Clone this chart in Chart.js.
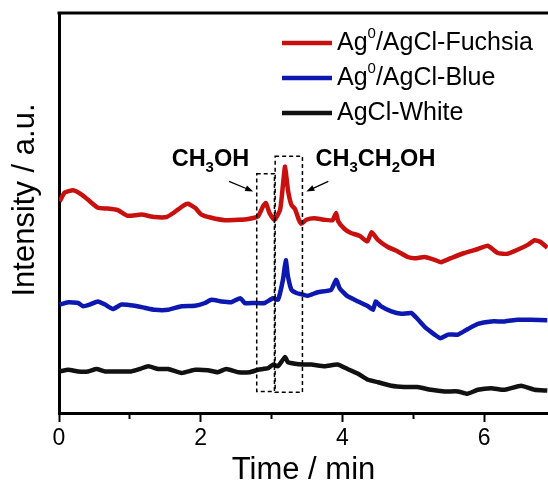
<!DOCTYPE html>
<html>
<head>
<meta charset="utf-8">
<script src="https://cdn.jsdelivr.net/npm/chart.js@4.4.1/dist/chart.umd.min.js"></script>
<style>
  html, body { margin: 0; padding: 0; background: #fff; }
  #wrap { width: 548px; height: 487px; position: relative; }
</style>
</head>
<body>
<div id="wrap"><canvas id="chart"></canvas></div>
<script>
// legend names (drawn with a real superscript 0)
const seriesNames = [
    ['Ag', '0', '/AgCl-Fuchsia'],
    ['Ag', '0', '/AgCl-Blue'],
    ['AgCl-White', '', '']
];
const seriesColors = ['#c8100f', '#0c18b0', '#111111'];

// Ag0/AgCl-Fuchsia
const timeFuchsia = [0.01, 0.08, 0.20, 0.32, 0.41, 0.55, 0.69, 0.83, 0.97, 1.16, 1.35, 1.52, 1.63, 1.75, 1.82, 1.92,
    2.01, 2.15, 2.34, 2.53, 2.67, 2.81, 2.88, 2.92, 2.97, 3.04, 3.12, 3.16, 3.19, 3.23, 3.28, 3.33, 3.38, 3.42,
    3.49, 3.60, 3.75, 3.86, 3.91, 3.94, 4.03, 4.12, 4.24, 4.35, 4.41, 4.50, 4.64, 4.78, 4.92, 5.02, 5.16, 5.30,
    5.39, 5.53, 5.72, 5.91, 6.05, 6.19, 6.33, 6.47, 6.62, 6.71, 6.80, 6.89];
const intensityFuchsia = [52.9, 55.1, 55.7, 54.6, 53.3, 51.3, 51.1, 50.7, 49.3, 49.6, 49.0, 49.0, 50.2, 51.8, 52.3, 51.3,
    49.6, 48.8, 48.2, 48.3, 48.5, 49.2, 51.7, 52.5, 50.0, 48.3, 50.8, 57.0, 61.6, 55.8, 52.0, 51.0, 48.5, 47.3,
    48.3, 48.7, 48.3, 48.2, 50.0, 47.9, 46.0, 45.0, 44.3, 42.9, 45.2, 43.3, 41.5, 40.4, 39.0, 38.7, 39.0, 38.3,
    37.7, 38.7, 40.0, 41.0, 41.8, 40.0, 39.8, 40.8, 42.1, 43.2, 42.7, 41.3];

// Ag0/AgCl-Blue
const timeBlue = [0.01, 0.13, 0.27, 0.34, 0.43, 0.55, 0.65, 0.76, 0.88, 1.07, 1.21, 1.35, 1.54, 1.73, 1.92, 2.06,
    2.15, 2.29, 2.43, 2.56, 2.62, 2.76, 2.90, 3.02, 3.09, 3.16, 3.20, 3.23, 3.28, 3.35, 3.44, 3.51, 3.65, 3.84,
    3.91, 3.96, 4.07, 4.22, 4.36, 4.43, 4.47, 4.54, 4.69, 4.83, 4.97, 5.06, 5.18, 5.30, 5.38, 5.49, 5.63, 5.77,
    5.91, 6.10, 6.29, 6.47, 6.66, 6.89];
const intensityBlue = [27.1, 27.7, 27.5, 26.7, 27.1, 27.9, 27.1, 26.0, 27.1, 26.8, 26.3, 25.8, 25.8, 26.7, 26.8, 27.5,
    28.3, 27.9, 27.7, 28.7, 27.5, 27.5, 27.5, 28.7, 28.3, 33.3, 38.2, 34.2, 30.8, 30.0, 29.6, 29.3, 30.2, 30.8,
    33.3, 31.2, 29.2, 27.9, 26.7, 25.8, 27.9, 26.7, 25.4, 24.8, 25.0, 23.5, 21.2, 19.6, 18.7, 19.6, 19.6, 21.0,
    22.3, 22.9, 22.9, 23.3, 23.3, 23.2];

// AgCl-White
const timeWhite = [0.01, 0.13, 0.27, 0.41, 0.53, 0.65, 0.83, 1.02, 1.14, 1.26, 1.40, 1.54, 1.73, 1.92, 2.10, 2.24,
    2.36, 2.53, 2.69, 2.81, 2.95, 3.02, 3.09, 3.19, 3.23, 3.33, 3.44, 3.56, 3.75, 3.93, 4.07, 4.22, 4.36, 4.50,
    4.69, 4.87, 5.06, 5.25, 5.44, 5.63, 5.76, 5.91, 6.10, 6.29, 6.52, 6.71, 6.89];
const intensityWhite = [10.4, 10.8, 10.4, 10.4, 11.0, 10.4, 10.4, 10.4, 11.0, 11.7, 11.0, 11.0, 10.0, 10.8, 10.7, 10.2,
    11.0, 10.2, 10.2, 10.8, 11.2, 12.1, 11.7, 14.0, 12.7, 12.3, 12.1, 12.1, 11.7, 12.1, 11.0, 9.8, 8.3, 7.7,
    6.8, 6.5, 6.5, 5.8, 5.4, 5.4, 4.8, 5.8, 6.2, 5.8, 6.8, 5.8, 5.6];

const xTickLabels = ['0', '', '2', '', '4', '', '6'];

function toPoints(xs, ys) {
    return xs.map((x, i) => ({ x: x, y: ys[i] }));
}

const FONT = "'Liberation Sans', Arial, sans-serif";

// text with a sub/superscript piece, drawn left to right
function drawRuns(ctx, runs, x, y) {
    runs.forEach(r => {
        if (!r.t) return;
        ctx.font = r.font;
        ctx.fillText(r.t, x, y + (r.dy || 0));
        x += ctx.measureText(r.t).width;
    });
}

const decorPlugin = {
    id: 'decor',
    afterDraw(chart) {
        const ctx = chart.ctx;
        const xs = chart.scales.x, ys = chart.scales.y;
        const area = chart.chartArea;
        ctx.save();

        // top frame line
        ctx.strokeStyle = '#000';
        ctx.lineWidth = 3;
        ctx.beginPath();
        ctx.moveTo(area.left - 1.5, area.top);
        ctx.lineTo(chart.width, area.top);
        ctx.stroke();

        // dashed boxes round the two peaks
        ctx.lineWidth = 1.5;
        ctx.setLineDash([4, 3]);
        [[2.79, 3.04, 5.4, 59.8], [3.05, 3.435, 5.2, 64.2]].forEach(b => {
            const l = xs.getPixelForValue(b[0]), r = xs.getPixelForValue(b[1]);
            const t = ys.getPixelForValue(b[3]), btm = ys.getPixelForValue(b[2]);
            ctx.strokeRect(l, t, r - l, btm - t);
        });
        ctx.setLineDash([]);

        // arrows
        function arrow(x1, y1, x2, y2) {
            const a = xs.getPixelForValue(x1), b = ys.getPixelForValue(y1);
            const c = xs.getPixelForValue(x2), d = ys.getPixelForValue(y2);
            const ang = Math.atan2(d - b, c - a);
            ctx.lineWidth = 1.3;
            ctx.beginPath();
            ctx.moveTo(a, b);
            ctx.lineTo(c - 5 * Math.cos(ang), d - 5 * Math.sin(ang));
            ctx.stroke();
            ctx.beginPath();
            ctx.moveTo(c, d);
            ctx.lineTo(c - 8 * Math.cos(ang) + 3 * Math.sin(ang), d - 8 * Math.sin(ang) - 3 * Math.cos(ang));
            ctx.lineTo(c - 8 * Math.cos(ang) - 3 * Math.sin(ang), d - 8 * Math.sin(ang) + 3 * Math.cos(ang));
            ctx.closePath();
            ctx.fill();
        }
        ctx.fillStyle = '#000';
        arrow(2.40, 57.9, 2.74, 55.4);
        arrow(3.80, 57.9, 3.49, 55.4);

        // peak labels
        const big = 'bold 23.5px ' + FONT, small = 'bold 15px ' + FONT;
        ctx.textAlign = 'left';
        ctx.textBaseline = 'alphabetic';
        drawRuns(ctx, [{ t: 'CH', font: big }, { t: '3', font: small, dy: 6 }, { t: 'OH', font: big }],
            xs.getPixelForValue(1.59), ys.getPixelForValue(61.65));
        drawRuns(ctx, [{ t: 'CH', font: big }, { t: '3', font: small, dy: 6 }, { t: 'CH', font: big },
            { t: '2', font: small, dy: 6 }, { t: 'OH', font: big }],
            xs.getPixelForValue(3.62), ys.getPixelForValue(61.65));

        // legend
        const rowY = [43, 78, 113];
        const lgFont = '25px ' + FONT, supFont = '15px ' + FONT;
        seriesNames.forEach((n, i) => {
            ctx.strokeStyle = seriesColors[i];
            ctx.lineWidth = 4.5;
            ctx.beginPath();
            ctx.moveTo(282, rowY[i]);
            ctx.lineTo(332, rowY[i]);
            ctx.stroke();
            ctx.fillStyle = '#000';
            ctx.textBaseline = 'middle';
            drawRuns(ctx, [{ t: n[0], font: lgFont }, { t: n[1], font: supFont, dy: -9 }, { t: n[2], font: lgFont }],
                337, rowY[i]);
        });

        // y axis title
        ctx.translate(25, 200);
        ctx.rotate(-Math.PI / 2);
        ctx.font = '31px ' + FONT;
        ctx.textAlign = 'center';
        ctx.textBaseline = 'middle';
        ctx.fillText('Intensity / a.u.', 0, 0);

        ctx.restore();
    }
};

function lineSet(label, xs, ys, color) {
    return {
        label: label,
        data: toPoints(xs, ys),
        borderColor: color,
        backgroundColor: color,
        borderWidth: 4.5,
        pointRadius: 0,
        tension: 0.15,
        fill: false
    };
}

new Chart(document.getElementById('chart').getContext('2d'), {
    type: 'line',
    data: {
        datasets: [
            lineSet(seriesNames[0].join(''), timeFuchsia, intensityFuchsia, seriesColors[0]),
            lineSet(seriesNames[1].join(''), timeBlue, intensityBlue, seriesColors[1]),
            lineSet(seriesNames[2].join(''), timeWhite, intensityWhite, seriesColors[2])
        ]
    },
    options: {
        responsive: true,
        maintainAspectRatio: false,
        animation: false,
        layout: { padding: { top: 13, right: 0, bottom: 0, left: 0 } },
        plugins: {
            legend: { display: false },
            tooltip: { enabled: false }
        },
        scales: {
            x: {
                type: 'linear',
                min: 0,
                max: 6.9,
                grid: {
                    display: true,
                    drawOnChartArea: false,
                    drawTicks: true,
                    tickLength: 9,
                    tickWidth: 2,
                    tickColor: '#000',
                    tickBorderDash: c => (c.tick && c.tick.value % 2 !== 0) ? [4, 30] : []
                },
                border: { display: true, color: '#000', width: 3 },
                ticks: {
                    stepSize: 1,
                    includeBounds: false,
                    autoSkip: false,
                    maxRotation: 0,
                    padding: 5,
                    color: '#000',
                    font: { family: FONT, size: 23, lineHeight: 1 },
                    callback: (v, i) => xTickLabels[v] !== undefined ? xTickLabels[v] : ''
                },
                title: {
                    display: true,
                    text: 'Time / min',
                    color: '#000',
                    font: { family: FONT, size: 31, lineHeight: 1 },
                    padding: { top: 0, bottom: 1 }
                },
                afterFit: s => { s.height = 74; }
            },
            y: {
                min: 0,
                max: 100,
                grid: { display: false },
                border: { display: true, color: '#000', width: 3 },
                ticks: { display: false },
                afterFit: s => { s.width = 59; }
            }
        }
    },
    plugins: [decorPlugin]
});
</script>
</body>
</html>
